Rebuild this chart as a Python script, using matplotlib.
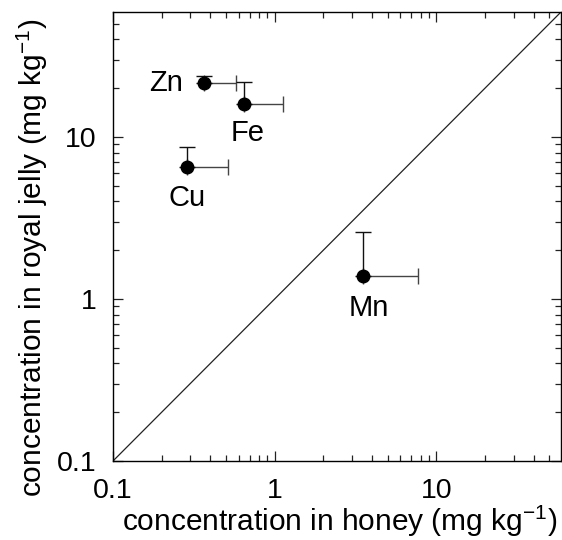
import matplotlib
matplotlib.use("Agg")
import matplotlib.pyplot as plt
from matplotlib.ticker import LogLocator, FixedLocator, FixedFormatter, NullFormatter

plt.rcParams["font.family"] = ["Liberation Sans", "DejaVu Sans"]
plt.rcParams["mathtext.fontset"] = "custom"
plt.rcParams["mathtext.rm"] = "Liberation Sans"
plt.rcParams["mathtext.it"] = "Liberation Sans"

# -----------------------
# Data (mg kg-1)
# -----------------------
elements = ["Zn", "Fe", "Cu", "Mn"]
honey = [0.365, 0.645, 0.286, 3.54]
honey_err = [0.215, 0.475, 0.227, 4.2]        # upper error only
jelly = [21.6, 16.0, 6.52, 1.38]
jelly_err = [2.3, 5.9, 2.15, 1.2]             # upper error only

tick_values = [0.1, 1, 10]
tick_labels = ["0.1", "1", "10"]
axis_limits = (0.1, 59)

# label offsets in points (relative to each point)
label_offsets = {"Zn": (-27, 0), "Fe": (3, -21), "Cu": (0, -22), "Mn": (4, -23)}

fig = plt.figure(figsize=(5.62, 5.40), dpi=100)
ax = fig.add_axes([113 / 562, (540 - 461) / 540, (561 - 113) / 562, (461 - 12) / 540])

# 1:1 line
ax.plot(axis_limits, axis_limits, color="#222222", lw=0.9, zorder=1)

# one-sided error bars
ax.errorbar(honey, jelly, xerr=[[0] * 4, honey_err], fmt="none",
            ecolor="#444444", elinewidth=1.0, capsize=5.5, capthick=1.0, zorder=2)
ax.errorbar(honey, jelly, yerr=[[0] * 4, jelly_err], fmt="none",
            ecolor="#111111", elinewidth=1.0, capsize=5.5, capthick=1.0, zorder=2)
ax.plot(honey, jelly, "o", color="black", ms=9, zorder=3)

for name, x, y in zip(elements, honey, jelly):
    ax.annotate(name, (x, y), xytext=label_offsets[name], textcoords="offset points",
                ha="center", va="center", fontsize=21)

ax.set_xscale("log")
ax.set_yscale("log")
ax.set_xlim(*axis_limits)
ax.set_ylim(*axis_limits)

for axis in (ax.xaxis, ax.yaxis):
    axis.set_major_locator(FixedLocator(tick_values))
    axis.set_major_formatter(FixedFormatter(tick_labels))
    axis.set_minor_locator(LogLocator(base=10, subs=range(2, 10), numticks=20))
    axis.set_minor_formatter(NullFormatter())

ax.tick_params(which="both", direction="in", top=True, right=True, width=0.9, color="#222222")
ax.tick_params(which="major", length=7, labelsize=20.5, pad=12)
ax.tick_params(which="minor", length=4)
for spine in ax.spines.values():
    spine.set_linewidth(1.0)

ax.set_xlabel("concentration in honey (mg kg$^{-1}$)", fontsize=21.5)
ax.set_ylabel("concentration in royal jelly (mg kg$^{-1}$)", fontsize=21.5)
ax.xaxis.set_label_coords(0.505, -0.095)
ax.yaxis.set_label_coords(-0.14, 0.452)

fig.savefig("out.png", dpi=100)
